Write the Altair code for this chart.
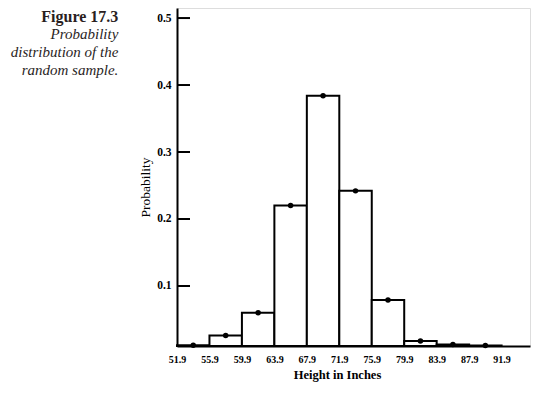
import altair as alt
import pandas as pd

# Data
bin_starts = [51.9, 55.9, 59.9, 63.9, 67.9, 71.9, 75.9, 79.9, 83.9, 87.9]
bin_width = 4.0
probabilities = [0.0115, 0.026, 0.060, 0.220, 0.384, 0.242, 0.079, 0.018, 0.0125, 0.0112]
y_ticks = [0.1, 0.2, 0.3, 0.4, 0.5]
x_ticks = [51.9, 55.9, 59.9, 63.9, 67.9, 71.9, 75.9, 79.9, 83.9, 87.9, 91.9]
caption_bold = "Figure 17.3"
caption_italic = ["Probability", "distribution of the", "random sample."]

df = pd.DataFrame({
    "start": bin_starts,
    "end": [s + bin_width for s in bin_starts],
    "mid": [s + bin_width / 2 for s in bin_starts],
    "prob": probabilities,
})
ticks_df = pd.DataFrame({"v": y_ticks})

SERIF = "Liberation Serif"
x_scale = alt.Scale(domain=[51.9, 95.4], nice=False, zero=False)
y_scale = alt.Scale(domain=[0.0104, 0.515], nice=False, zero=False, clamp=True)

x_axis = alt.Axis(
    values=x_ticks, format=".1f", ticks=False, grid=False, labelOverlap=False,
    domainColor="black", domainWidth=2, labelFont=SERIF, labelFontWeight="bold",
    labelFontSize=10, labelColor="black", labelPadding=8, labelFlush=False,
    labelBound=False,
    title="Height in Inches", titleFont=SERIF, titleFontWeight="bold",
    titleFontSize=12.5, titleColor="black", titleX=160, titleY=28,
    titleAlign="center", titleBaseline="middle",
)
y_axis = alt.Axis(
    values=y_ticks, format=".1f", ticks=False, grid=False, labelOverlap=False,
    domainColor="black", domainWidth=2, labelFont=SERIF, labelFontWeight="bold",
    labelFontSize=11.5, labelColor="black", labelPadding=6,
    title="Probability", titleFont=SERIF, titleFontWeight="normal",
    titleFontSize=13.5, titleColor="black", titleX=-32, titleY=179,
    titleAlign="center", titleBaseline="middle", titleAngle=-90,
)

base = alt.Chart(df)

bars = base.mark_bar(fill="white", stroke="black", strokeWidth=2).encode(
    x=alt.X("start:Q", scale=x_scale, axis=x_axis),
    x2="end:Q",
    y=alt.Y("prob:Q", scale=y_scale, axis=y_axis),
    y2=alt.value(338),
)

dots = base.mark_circle(size=30, color="black", opacity=1).encode(
    x=alt.X("mid:Q", scale=x_scale, axis=x_axis),
    y=alt.Y("prob:Q", scale=y_scale, axis=y_axis),
)

tick_rules = alt.Chart(ticks_df).mark_rule(color="black", strokeWidth=2).encode(
    y=alt.Y("v:Q", scale=y_scale, axis=y_axis),
    x=alt.value(0),
    x2=alt.value(13),
)

cap_color = "#2a1e1e"
cap1 = alt.Chart(pd.DataFrame({"t": [caption_bold]})).mark_text(
    font=SERIF, fontWeight="bold", fontSize=16, align="right",
    baseline="alphabetic", color=cap_color,
).encode(text="t:N", x=alt.value(-58.7), y=alt.value(14))

cap_layers = []
for i, line in enumerate(caption_italic):
    cap_layers.append(
        alt.Chart(pd.DataFrame({"t": [line]})).mark_text(
            font=SERIF, fontStyle="italic", fontSize=15, align="right",
            baseline="alphabetic", color=cap_color,
        ).encode(text="t:N", x=alt.value(-58.7), y=alt.value(31 + 18 * i))
    )

chart = alt.layer(bars, dots, tick_rules, cap1, *cap_layers).properties(
    width=353, height=338,
    autosize=alt.AutoSizeParams(type="none"),
    padding={"left": 169, "top": 0, "right": 4, "bottom": 45},
).configure_view(stroke=None).configure(background="white").configure_axis(
    labelOverlap=False
)

chart.save("out.html", embed_options={"renderer": "svg", "actions": False})
